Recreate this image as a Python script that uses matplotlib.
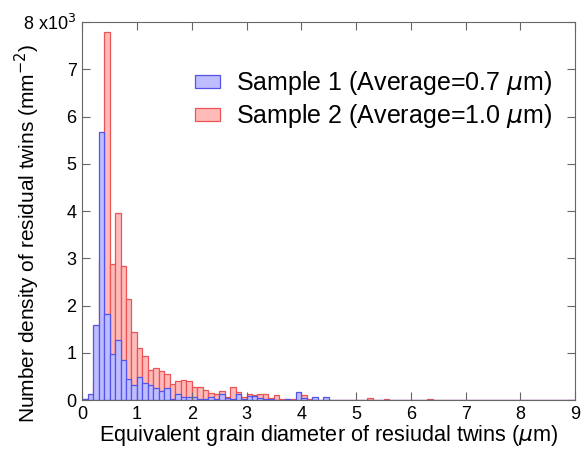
import numpy as np
import matplotlib.pyplot as plt

plt.rcParams['font.family'] = ['Liberation Sans', 'DejaVu Sans']

# bin edges: 0.1 um wide bins from 0 to 9 um
bin_width = 0.1
bin_left = np.arange(0, 9.0, bin_width)

# number density (x10^3 mm^-2) per bin
sample1 = [
    0.02, 0.12, 1.58, 5.67, 1.83, 0.97, 1.28, 0.85, 0.44, 0.31,
    0.48, 0.36, 0.32, 0.25, 0.19, 0.25, 0.02, 0.12, 0.06, 0.06,
    0.06, 0.02, 0.02, 0.06, 0.02, 0.12, 0.05, 0.02, 0.12, 0.03,
    0.08, 0.08, 0.05, 0.02, 0.02, 0.0, 0.0, 0.02, 0.0, 0.18,
    0.04, 0.0, 0.06, 0.0, 0.06, 0.0, 0.01, 0.01, 0.0, 0.0,
    0.0, 0.01, 0.0, 0.0, 0.0, 0.0, 0.0, 0.0, 0.0, 0.0,
    0.0, 0.0, 0.0, 0.0, 0.0, 0.0, 0.0, 0.0, 0.0, 0.0,
    0.0, 0.0, 0.0, 0.0, 0.0, 0.0, 0.0, 0.0, 0.0, 0.0,
    0.0, 0.0, 0.0, 0.0, 0.0, 0.0, 0.0, 0.0, 0.0, 0.0,
]
sample2 = [
    0.02, 0.05, 0.4, 3.0, 7.78, 2.88, 3.95, 2.84, 2.13, 1.45,
    1.11, 0.93, 0.64, 0.67, 0.61, 0.56, 0.35, 0.40, 0.42, 0.40,
    0.27, 0.27, 0.21, 0.14, 0.13, 0.20, 0.07, 0.27, 0.16, 0.07,
    0.13, 0.10, 0.13, 0.12, 0.04, 0.10, 0.03, 0.02, 0.02, 0.05,
    0.10, 0.02, 0.01, 0.01, 0.0, 0.0, 0.01, 0.01, 0.0, 0.0,
    0.0, 0.01, 0.05, 0.0, 0.0, 0.03, 0.01, 0.0, 0.01, 0.0,
    0.0, 0.0, 0.0, 0.03, 0.0, 0.01, 0.0, 0.0, 0.0, 0.0,
    0.0, 0.0, 0.0, 0.0, 0.0, 0.0, 0.0, 0.0, 0.01, 0.0,
    0.0, 0.0, 0.0, 0.0, 0.0, 0.0, 0.01, 0.0, 0.0, 0.0,
]
labels = ["Sample 1 (Average=0.7 $\\mu$m)", "Sample 2 (Average=1.0 $\\mu$m)"]
yticks = [0, 1, 2, 3, 4, 5, 6, 7, 8]
ytick_labels = ["0", "1", "2", "3", "4", "5", "6", "7", "8 x10$^3$"]

fig = plt.figure(figsize=(5.87, 4.5), dpi=100)
ax = fig.add_axes([0.140, 0.111, 0.840, 0.840])

ax.bar(bin_left, sample2, width=bin_width, align='edge',
       facecolor=(1.0, 0.73, 0.73), edgecolor=(0.92, 0.33, 0.33), linewidth=0.9, label=labels[1])
ax.bar(bin_left, sample1, width=bin_width, align='edge',
       facecolor=(0.74, 0.74, 1.0), edgecolor=(0.33, 0.33, 0.92), linewidth=0.9, label=labels[0])

ax.set_xlim(0, 9)
ax.set_ylim(0, 8)
ax.set_xticks(range(0, 10))
ax.set_yticks(yticks)
ax.set_yticklabels(ytick_labels)
ax.tick_params(direction='in', top=True, right=True, length=6, labelsize=13,
               color='#666666', pad=4)
for s in ax.spines.values():
    s.set_color('#666666')

ax.set_xlabel("Equivalent grain diameter of resiudal twins ($\\mu$m)", fontsize=15.6, labelpad=0)
ax.set_ylabel("Number density of residual twins (mm$^{-2}$)", fontsize=15)
ax.yaxis.set_label_coords(-0.082, 0.44)

h, l = ax.get_legend_handles_labels()
ax.legend(h[::-1], l[::-1], loc='upper left', bbox_to_anchor=(0.229, 0.875), frameon=False,
          fontsize=18, handlelength=1.0, handleheight=0.45, labelspacing=0.2,
          handletextpad=0.62, borderpad=0, borderaxespad=0)

fig.savefig("out.png", dpi=100)
